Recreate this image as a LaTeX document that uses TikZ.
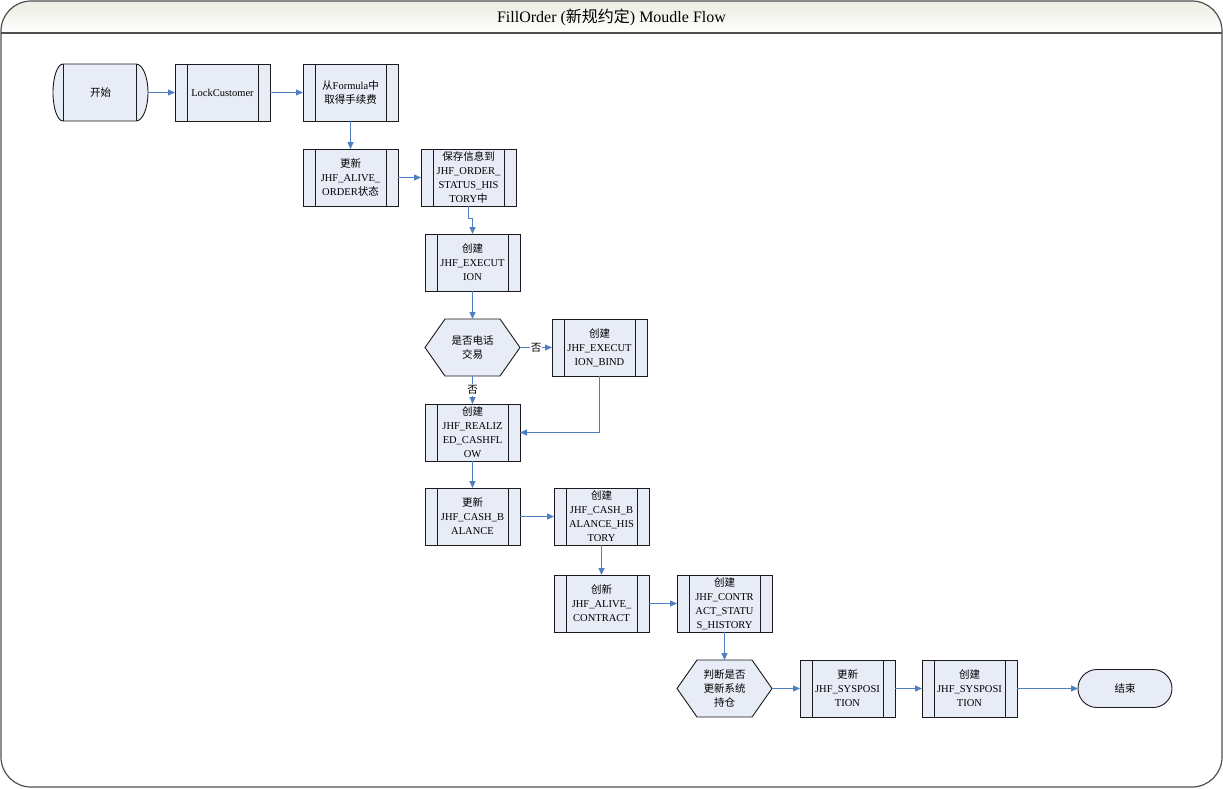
\documentclass[tikz,border=0pt]{standalone}
\usepackage{fontspec}
\setmainfont{Liberation Serif}
\newfontfamily\cjk{Noto Sans CJK SC}
\newcommand{\zh}[1]{{\cjk #1}}
\usetikzlibrary{positioning, arrows.meta, backgrounds}
\definecolor{boxfill}{HTML}{E8ECF6}
\definecolor{flowblue}{HTML}{4F7FC0}
\definecolor{framegray}{HTML}{505050}
\definecolor{boxline}{HTML}{1A1A1A}
\definecolor{titletop}{HTML}{ECECE2}

\begin{document}
\begin{tikzpicture}[font=\fontsize{10.5}{14}\selectfont,
        procbox/.style={rectangle, draw=boxline, fill=boxfill, line width=0.9pt, minimum width=95pt, minimum height=57pt, inner sep=0pt, outer sep=0pt, align=center,
            path picture={\draw[boxline, line width=0.9pt] ([xshift=12pt]path picture bounding box.north west) -- ([xshift=12pt]path picture bounding box.south west)
                ([xshift=-12pt]path picture bounding box.north east) -- ([xshift=-12pt]path picture bounding box.south east);}},
        plainbox/.style={rectangle, minimum width=95pt, minimum height=57pt, inner sep=0pt, outer sep=0pt, align=center},
        endbox/.style={rectangle, rounded corners=19pt, draw=boxline, fill=boxfill, line width=0.9pt, minimum width=94pt, minimum height=38pt, outer sep=0pt},
        shapeline/.style={draw=boxline, line width=0.9pt, fill=boxfill},
        flow/.style={draw, flowblue, line width=1pt, -{Triangle[length=7pt, width=6pt]}},
        answer/.style={fill=white, inner sep=1pt, text=black}]

    \useasboundingbox (0,0) rectangle (1223pt,-788pt);

    % Frame and title bar
    \begin{scope}[on background layer]
        \fill[white, rounded corners=30pt] (1pt,-1pt) rectangle (1222pt,-787pt);
        \shade[top color=titletop, bottom color=white] (1pt,-33pt) -- (1pt,-31pt) arc[start angle=180, end angle=90, radius=30pt]
            -- (1192pt,-1pt) arc[start angle=90, end angle=0, radius=30pt] -- (1222pt,-33pt) -- cycle;
        \draw[framegray, line width=1.2pt, rounded corners=30pt] (1pt,-1pt) rectangle (1222pt,-787pt);
        \draw[framegray, line width=1.2pt] (1pt,-33pt) -- (1222pt,-33pt);
    \end{scope}
    \node[font=\fontsize{16}{19}\selectfont] (title) at (611.5pt,-17pt) {FillOrder (\zh{新规约定}) Moudle Flow};

    % Nodes
    \node[plainbox] (start) at (100.5pt,-92.5pt) {\zh{开始}};
    \node[procbox, right=27pt of start] (lock) {LockCustomer};
    \node[procbox, right=33pt of lock] (formula) {\zh{从}Formula\zh{中}\\\zh{取得手续费}};
    \node[procbox, below=28pt of formula] (aliveorder) {\zh{更新}\\JHF\_ALIVE\_\\ORDER\zh{状态}};
    \node[procbox, right=23pt of aliveorder] (statushist) {\zh{保存信息到}\\JHF\_ORDER\_\\STATUS\_HIS\\TORY\zh{中}};
    \node[procbox, below=28pt of statushist, xshift=4pt] (execution) {\zh{创建}\\JHF\_EXECUT\\ION};
    \node[plainbox, below=28pt of execution] (phone) {\zh{是否电话}\\\zh{交易}};
    \node[procbox, right=32pt of phone] (bind) {\zh{创建}\\JHF\_EXECUT\\ION\_BIND};
    \node[procbox, below=28pt of phone] (realized) {\zh{创建}\\JHF\_REALIZ\\ED\_CASHFL\\OW};
    \node[procbox, below=27pt of realized] (cashbal) {\zh{更新}\\JHF\_CASH\_B\\ALANCE};
    \node[procbox, right=34pt of cashbal] (cashhist) {\zh{创建}\\JHF\_CASH\_B\\ALANCE\_HIS\\TORY};
    \node[procbox, below=30pt of cashhist] (contract) {\zh{创新}\\JHF\_ALIVE\_\\CONTRACT};
    \node[procbox, right=28pt of contract] (contracthist) {\zh{创建}\\JHF\_CONTR\\ACT\_STATU\\S\_HISTORY};
    \node[plainbox, below=28pt of contracthist] (syspos) {\zh{判断是否}\\\zh{更新系统}\\\zh{持仓}};
    \node[procbox, right=28pt of syspos] (sysupdate) {\zh{更新}\\JHF\_SYSPOSI\\TION};
    \node[procbox, right=27pt of sysupdate] (syscreate) {\zh{创建}\\JHF\_SYSPOSI\\TION};
    \node[endbox, right=61pt of syscreate] (finish) {\zh{结束}};

    % Start and decision outlines
    \begin{scope}[on background layer]
        \draw[shapeline] ([xshift=10pt]start.north west) -- ([xshift=-12pt]start.north east)
            arc[start angle=90, end angle=-90, x radius=12pt, y radius=28.5pt] -- ([xshift=10pt]start.south west)
            arc[start angle=270, end angle=90, x radius=10pt, y radius=28.5pt] -- cycle;
        \draw[boxline, line width=0.9pt] ([xshift=10pt]start.north west) -- ([xshift=10pt]start.south west)
            ([xshift=-12pt]start.north east) -- ([xshift=-12pt]start.south east);
        \foreach \d in {phone, syspos}
            \draw[shapeline] (\d.west) -- ([xshift=20pt]\d.north west) -- ([xshift=-20pt]\d.north east) -- (\d.east)
                -- ([xshift=-20pt]\d.south east) -- ([xshift=20pt]\d.south west) -- cycle;
    \end{scope}

    % Arrows
    \path[flow] (start) -- (lock);
    \path[flow] (lock) -- (formula);
    \path[flow] (formula) -- (aliveorder);
    \path[flow] (aliveorder) -- (statushist);
    \path[flow] (statushist.south) -- ++(0,-12pt) -| (execution.north);
    \path[flow] (execution) -- (phone);
    \path[flow] (phone) -- node[answer] {\zh{否}} (bind);
    \path[flow] (phone) -- node[answer] {\zh{否}} (realized);
    \path[flow] (bind.south) |- (realized.east);
    \path[flow] (realized) -- (cashbal);
    \path[flow] (cashbal) -- (cashhist);
    \path[flow] (cashhist) -- (contract);
    \path[flow] (contract) -- (contracthist);
    \path[flow] (contracthist) -- (syspos);
    \path[flow] (syspos) -- (sysupdate);
    \path[flow] (sysupdate) -- (syscreate);
    \path[flow] (syscreate) -- (finish);
\end{tikzpicture}
\end{document}
